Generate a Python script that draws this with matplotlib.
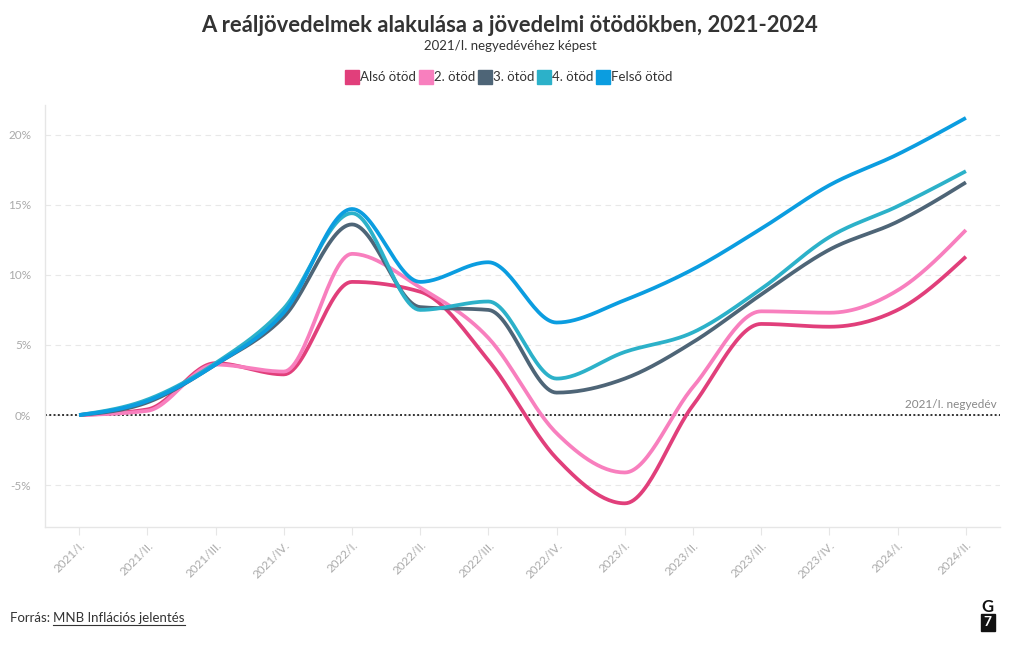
import numpy as np
import matplotlib
matplotlib.use('Agg')
import matplotlib.pyplot as plt
from matplotlib.lines import Line2D
from matplotlib.patches import Rectangle

plt.rcParams['font.family'] = ['Lato', 'DejaVu Sans']

quarters = ['2021/I.', '2021/II.', '2021/III.', '2021/IV.', '2022/I.', '2022/II.', '2022/III.',
            '2022/IV.', '2023/I.', '2023/II.', '2023/III.', '2023/IV.', '2024/I.', '2024/II.']

also = [0, 0.4, 3.7, 2.9, 9.5, 8.8, 3.9, -3.1, -6.3, 0.7, 6.5, 6.3, 7.5, 11.3]
masodik = [0, 0.3, 3.6, 3.1, 11.5, 9.1, 5.5, -1.3, -4.1, 2.0, 7.4, 7.3, 8.9, 13.2]
harmadik = [0, 0.9, 3.6, 7.0, 13.6, 7.7, 7.5, 1.6, 2.6, 5.2, 8.6, 11.8, 13.8, 16.6]
negyedik = [0, 1.1, 3.7, 7.6, 14.4, 7.5, 8.1, 2.6, 4.5, 5.9, 9.0, 12.7, 14.9, 17.4]
felso = [0, 1.0, 3.6, 7.3, 14.7, 9.5, 10.9, 6.6, 8.2, 10.4, 13.3, 16.4, 18.6, 21.2]

series = [
    ('Alsó ötöd', also, '#e13f7b'),
    ('2. ötöd', masodik, '#f87fbe'),
    ('3. ötöd', harmadik, '#4e6577'),
    ('4. ötöd', negyedik, '#2cb1c9'),
    ('Felső ötöd', felso, '#0b9de0'),
]


def monotone(x, y, n=30):
    # monotone cubic (like d3.curveMonotoneX), only for drawing the line smoothly
    x = np.asarray(x, float)
    y = np.asarray(y, float)
    h = np.diff(x)
    s = np.diff(y) / h
    m = np.zeros_like(y)
    for i in range(1, len(y) - 1):
        p = (s[i - 1] * h[i] + s[i] * h[i - 1]) / (h[i - 1] + h[i])
        m[i] = (np.sign(s[i - 1]) + np.sign(s[i])) * min(abs(s[i - 1]), abs(s[i]), 0.5 * abs(p))
    m[0] = (3 * s[0] - m[1]) / 2
    m[-1] = (3 * s[-1] - m[-2]) / 2
    xs, ys = [], []
    for i in range(len(h)):
        t = np.linspace(0, 1, n, endpoint=False)
        h00 = 2 * t**3 - 3 * t**2 + 1
        h10 = t**3 - 2 * t**2 + t
        h01 = -2 * t**3 + 3 * t**2
        h11 = t**3 - t**2
        xs.append(x[i] + t * h[i])
        ys.append(h00 * y[i] + h10 * h[i] * m[i] + h01 * y[i + 1] + h11 * h[i] * m[i + 1])
    xs.append([x[-1]])
    ys.append([y[-1]])
    return np.concatenate(xs), np.concatenate(ys)


fig = plt.figure(figsize=(10.2, 6.5), dpi=100)
ax = fig.add_axes([0.0441, 0.189, 0.9363, 0.649])

x = np.arange(len(quarters))
for name, vals, color in series:
    xs, ys = monotone(x, vals)
    ax.plot(xs, ys, color=color, lw=2.7, solid_capstyle='butt', zorder=3)

ax.axhline(0, color='#333333', lw=1.4, ls=(0, (1, 1.2)), zorder=2)
ax.text(13.45, 0.35, '2021/I. negyedév', ha='right', va='bottom', fontsize=8.5, color='#888888')

ax.set_xlim(-0.5, 13.5)
ax.set_ylim(-8, 22.1)
ax.set_yticks([-5, 0, 5, 10, 15, 20])
ax.set_yticklabels([f'{v}%' for v in [-5, 0, 5, 10, 15, 20]])
ax.set_xticks(x)
ax.set_xticklabels(quarters, rotation=45, ha='right', rotation_mode='anchor')
ax.tick_params(axis='y', length=0, labelsize=8.5, labelcolor='#aaaaaa', pad=10)
ax.tick_params(axis='x', length=6, color='#e6e6e6', labelsize=8.5, labelcolor='#aaaaaa', pad=3)
ax.grid(axis='y', color='#e8e8e8', ls=(0, (5, 4)), lw=0.8)
for side in ['top', 'right']:
    ax.spines[side].set_visible(False)
for side in ['left', 'bottom']:
    ax.spines[side].set_color('#e6e6e6')
    ax.spines[side].set_linewidth(1)

fig.text(0.5, 0.960, 'A reáljövedelmek alakulása a jövedelmi ötödökben, 2021-2024',
         ha='center', va='center', fontsize=15.8, fontweight='bold', color='#333333')
fig.text(0.5, 0.930, '2021/I. negyedévéhez képest', ha='center', va='center', fontsize=9.5, color='#333333')

handles = [Line2D([], [], ls='none', marker='s', markersize=9.5, markerfacecolor=c, markeredgecolor=c)
           for _, _, c in series]
fig.legend(handles, [s[0] for s in series], loc='center', bbox_to_anchor=(0.5, 0.881), ncol=5,
           frameon=False, fontsize=9.5, handlelength=0.7, handletextpad=0.25, columnspacing=0.4,
           labelcolor='#333333')

src = fig.text(0.0098, 0.05, 'Forrás: ', ha='left', va='center', fontsize=9.5, color='#333333')
fig.canvas.draw()
bb = src.get_window_extent()
link = fig.text(bb.x1 / fig.bbox.width, 0.05, 'MNB Inflációs jelentés', ha='left', va='center',
                fontsize=9.5, color='#333333')
fig.canvas.draw()
lb = link.get_window_extent()
fig.add_artist(Line2D([lb.x0 / fig.bbox.width, lb.x1 / fig.bbox.width], [lb.y0 / fig.bbox.height - 0.002] * 2,
                      transform=fig.transFigure, color='#333333', lw=0.8))

fig.text(0.9685, 0.066, 'G', ha='center', va='center', fontsize=12, fontweight='bold', color='#111111')
fig.add_artist(Rectangle((0.9615, 0.030), 0.014, 0.025, transform=fig.transFigure, color='#111111'))
fig.text(0.9685, 0.0425, '7', ha='center', va='center', fontsize=10, fontweight='bold', color='white')

fig.savefig('out.png', dpi=100, facecolor='white')
